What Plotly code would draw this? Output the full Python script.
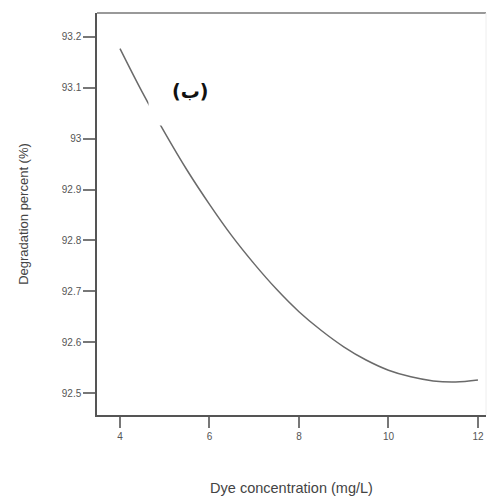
import plotly.graph_objects as go

# Values
dye_conc = [4, 4.5, 5, 5.5, 6, 6.5, 7, 7.5, 8, 8.5, 9, 9.5, 10, 10.5, 11, 11.5, 12]
degradation = [93.177, 93.091, 93.012, 92.938, 92.871, 92.809, 92.754, 92.704,
               92.660, 92.623, 92.591, 92.565, 92.545, 92.532, 92.524, 92.522, 92.526]

x_ticks = [4, 6, 8, 10, 12]
y_ticks = [92.5, 92.6, 92.7, 92.8, 92.9, 93.0, 93.1, 93.2]
y_tick_text = ["92.5", "92.6", "92.7", "92.8", "92.9", "93", "93.1", "93.2"]

fig = go.Figure()
fig.add_trace(go.Scatter(x=dye_conc, y=degradation, mode="lines", line_shape="spline",
                         line=dict(color="#6a6a6a", width=1.5), showlegend=False))

font_fam = "Liberation Sans, Arial, sans-serif"

fig.update_layout(
    width=496, height=504,
    margin=dict(l=97, r=10, t=13, b=86),
    paper_bgcolor="white", plot_bgcolor="white",
    font=dict(family=font_fam, color="#555555"),
    xaxis=dict(range=[3.486, 12.18], tickvals=x_ticks, ticks="outside", ticklen=11,
               tickcolor="#777777", tickwidth=1.5, showgrid=False, zeroline=False,
               showline=True, linecolor="#555555", linewidth=1.5,
               tickfont=dict(size=10, color="#555555"),
               title=dict(text="Dye concentration (mg/L)", standoff=42,
                          font=dict(size=14.5, color="#444444"))),
    yaxis=dict(range=[92.457, 93.247], tickvals=y_ticks, ticktext=y_tick_text,
               ticks="outside", ticklen=12, tickcolor="#777777", tickwidth=1.5,
               showgrid=False, zeroline=False, showline=True, linecolor="#555555",
               linewidth=1.5, tickfont=dict(size=10, color="#555555"),
               title=dict(text="Degradation percent (%)", standoff=30,
                          font=dict(size=13, color="#444444"))),
    shapes=[
        dict(type="line", xref="paper", yref="paper", x0=0, x1=1, y0=1, y1=1,
             line=dict(color="#999999", width=2)),
        dict(type="line", xref="paper", yref="paper", x0=1, x1=1, y0=0, y1=1,
             line=dict(color="#eeeeee", width=1)),
    ],
    annotations=[
        dict(text="<b>(ب)</b>", xref="paper", yref="paper",
             x=(190 - 97) / 389, y=(418 - 92) / 405, xanchor="center", yanchor="middle",
             showarrow=False, bgcolor="white", borderpad=23,
             font=dict(size=19, color="#111111", family="DejaVu Sans, sans-serif")),
    ],
)

fig.write_html("out.html")
